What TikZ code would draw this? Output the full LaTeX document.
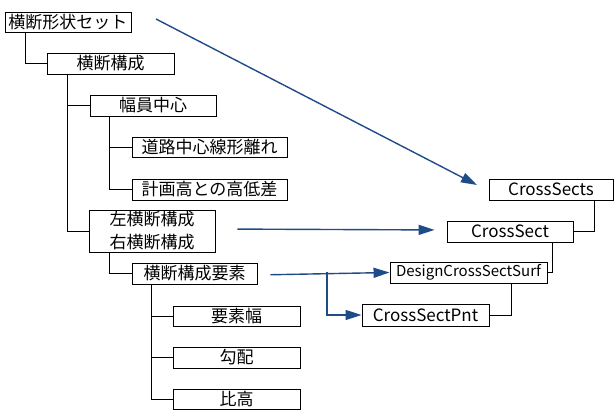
\documentclass[tikz,border=0pt]{standalone}
\usepackage{fontspec}
\setmainfont{Noto Sans CJK JP}
\usetikzlibrary{arrows.meta}
\definecolor{arrblue}{RGB}{31,75,135}
\begin{document}
\begin{tikzpicture}[x=1pt,y=-1pt,
  box/.style={draw=black,line width=0.9pt,rectangle,inner sep=0pt,anchor=center,
    font=\fontsize{17}{23}\selectfont,align=center},
  tree/.style={draw=black,line width=0.9pt},
  arr/.style={draw=arrblue,line width=1.4pt,-{Triangle[length=16pt,width=10pt]}}]
\useasboundingbox (0,0) rectangle (614,411);
% left tree
\node[box,minimum width=126pt,minimum height=20pt] (b1) at (68,22) {横断形状セット};
\node[box,minimum width=127pt,minimum height=21pt] (b2) at (110.5,63.5) {横断構成};
\node[box,minimum width=126pt,minimum height=21pt] (b3) at (153,105.5) {幅員中心};
\node[box,minimum width=155pt,minimum height=20pt] (b4) at (209.5,147) {道路中心線形離れ};
\node[box,minimum width=155pt,minimum height=21pt] (b5) at (209.5,189.5) {計画高との高低差};
\node[box,minimum width=126pt,minimum height=42pt] (b6) at (152,231) {左横断構成\\右横断構成};
\node[box,minimum width=125pt,minimum height=21pt] (b7) at (194.5,273.5) {横断構成要素};
\node[box,minimum width=127pt,minimum height=20pt] (b8) at (236.5,316) {要素幅};
\node[box,minimum width=127pt,minimum height=21pt] (b9) at (236.5,357.5) {勾配};
\node[box,minimum width=127pt,minimum height=20pt] (b10) at (236.5,399) {比高};
% right chain
\node[box,minimum width=124pt,minimum height=21pt] (r1) at (551,189.5) {CrossSects};
\node[box,minimum width=126pt,minimum height=21pt] (r2) at (510,231.5) {CrossSect};
\node[box,minimum width=157pt,minimum height=21pt,font=\fontsize{15}{18}\selectfont] (r3) at (468.5,272.5) {DesignCrossSectSurf};
\node[box,minimum width=127pt,minimum height=22pt] (r4) at (425.5,315) {CrossSectPnt};
% tree connectors
\draw[tree] ([xshift=21pt]b1.south west) |- (b2.west);
\draw[tree] ([xshift=21pt]b2.south west) |- (b3.west);
\draw[tree] ([xshift=21pt]b2.south west) |- (b6.west);
\draw[tree] ([xshift=20pt]b3.south west) |- (b4.west);
\draw[tree] ([xshift=20pt]b3.south west) |- (b5.west);
\draw[tree] ([xshift=21pt]b6.south west) |- (b7.west);
\draw[tree] ([xshift=20pt]b7.south west) |- (b8.west);
\draw[tree] ([xshift=20pt]b7.south west) |- (b9.west);
\draw[tree] ([xshift=20pt]b7.south west) |- (b10.west);
\draw[tree] ([xshift=-19pt]r1.south east) |- (r2.east);
\draw[tree] ([xshift=-21pt]r2.south east) |- (r3.east);
\draw[tree] ([xshift=-36pt]r3.south east) |- (r4.east);
% blue arrows
\coordinate (a1s) at (156,19);
\coordinate (a1e) at (477,185);
\draw[arr] (a1s) -- (a1e);
\draw[arr,shorten <=22pt,shorten >=12pt] ([yshift=2pt]b6.east) -- ([yshift=1.5pt]r2.west);
\draw[arr,shorten <=13pt] ([yshift=-1.5pt]b7.east) -- (r3.west);
\coordinate (br) at (327,272);
\draw[arr] (br) |- (r4.west);
\end{tikzpicture}
\end{document}
